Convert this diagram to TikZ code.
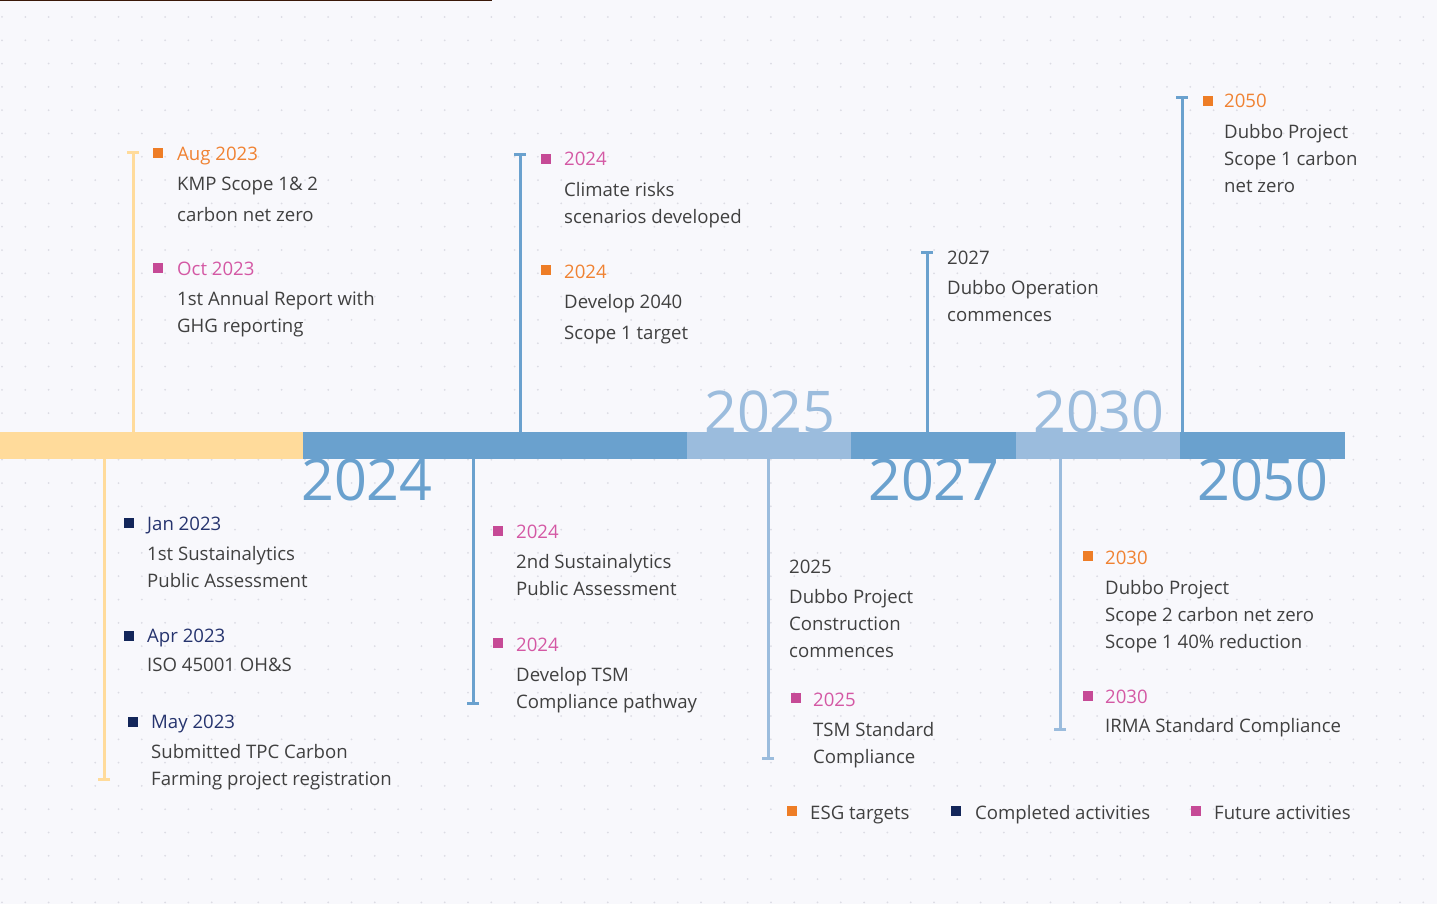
\documentclass[tikz,border=0pt]{standalone}
\usepackage{fontspec}
\setmainfont{Open Sans}
\definecolor{PageBg}{RGB}{248,248,252}
\definecolor{DotGrey}{RGB}{220,220,228}
\definecolor{TopRule}{RGB}{58,24,8}
\definecolor{BarYellow}{RGB}{255,219,155}
\definecolor{BarBlue}{RGB}{106,161,206}
\definecolor{BarLight}{RGB}{155,188,221}
\definecolor{EsgOrange}{RGB}{238,125,38}
\definecolor{DoneNavy}{RGB}{19,38,90}
\definecolor{FuturePink}{RGB}{198,74,150}
\definecolor{DateOrange}{RGB}{240,130,50}
\definecolor{DateNavy}{RGB}{38,52,110}
\definecolor{DatePink}{RGB}{212,88,164}
\definecolor{BodyGrey}{RGB}{64,64,64}
\usetikzlibrary{arrows.meta, positioning}

\begin{document}
\begin{tikzpicture}[x=1pt, y=-1pt,
        seg/.style={rectangle, inner sep=0pt, minimum height=27pt, anchor=west},
        stem/.style={line width=3pt},
        capped/.style={arrows={Bar[width=12pt]-}},
        chip/.style={rectangle, inner sep=0pt, minimum size=10pt},
        date/.style={anchor=base west, inner sep=0pt, font=\fontsize{18.6}{27}\selectfont},
        body/.style={inner sep=0pt, align=left, text=BodyGrey, font=\fontsize{18.6}{27}\selectfont, execute at begin node=\strut},
        bigyear/.style={anchor=base west, inner sep=0pt, font=\fontsize{57.5}{60}\selectfont}
    ]
        \useasboundingbox (0,0) rectangle (1437,904);
        \fill[PageBg] (0,0) rectangle (1437,904);
        % dotted paper
        \foreach \i in {0,...,61}
            \foreach \j in {0,...,38}
                \fill[DotGrey] ({2+23.3*\i},{17+23.3*\j}) circle (1pt);
        \draw[TopRule, line width=1.5pt] (0,0.75) -- (492,0.75);

        % years
        \node[bigyear, text=BarBlue] (y2024) at (301,500) {2024};
        \node[bigyear, text=BarLight] (y2025) at (704,432) {2025};
        \node[bigyear, text=BarBlue] (y2027) at (868,500) {2027};
        \node[bigyear, text=BarLight] (y2030) at (1033,432) {2030};
        \node[bigyear, text=BarBlue] (y2050) at (1197,500) {2050};

        % timeline bar
        \node[seg, fill=BarYellow, minimum width=303pt] (seg1) at (0,445.5) {};
        \node[seg, fill=BarBlue, minimum width=384pt] (seg2) at (303,445.5) {};
        \node[seg, fill=BarLight, minimum width=164pt] (seg3) at (687,445.5) {};
        \node[seg, fill=BarBlue, minimum width=165pt] (seg4) at (851,445.5) {};
        \node[seg, fill=BarLight, minimum width=164pt] (seg5) at (1016,445.5) {};
        \node[seg, fill=BarBlue, minimum width=165pt] (seg6) at (1180,445.5) {};

        % stems
        \coordinate (t1) at (133,151);
        \coordinate (t2) at (520,153);
        \coordinate (t3) at (927,251);
        \coordinate (t4) at (1182,96);
        \coordinate (b1) at (104,781);
        \coordinate (b2) at (473,705);
        \coordinate (b3) at (768,760);
        \coordinate (b4) at (1060,731);
        \draw[stem, capped, BarYellow] (t1) -- (t1 |- seg1.north);
        \draw[stem, capped, BarBlue] (t2) -- (t2 |- seg2.north);
        \draw[stem, capped, BarBlue] (t3) -- (t3 |- seg4.north);
        \draw[stem, capped, BarBlue] (t4) -- (t4 |- seg6.north);
        \draw[stem, capped, BarYellow] (b1) -- (b1 |- seg1.south);
        \draw[stem, capped, BarBlue] (b2) -- (b2 |- seg2.south);
        \draw[stem, capped, BarLight] (b3) -- (b3 |- seg3.south);
        \draw[stem, capped, BarLight] (b4) -- (b4 |- seg5.south);

        % above the bar
        \node[chip, fill=EsgOrange] (c1) at (158,153) {};
        \node[date, text=DateOrange] (d1) at (177,161) {Aug 2023};
        \node[body, below right=15.9pt and 0pt of d1.base west] (e1) {KMP Scope 1\& 2\\[4pt]carbon net zero};
        \node[chip, fill=FuturePink] (c2) at (158,268) {};
        \node[date, text=DatePink] (d2) at (177,275) {Oct 2023};
        \node[body, below right=15.9pt and 0pt of d2.base west] (e2) {1st Annual Report with\\GHG reporting};

        \node[chip, fill=FuturePink] (c3) at (546,159) {};
        \node[date, text=DatePink] (d3) at (564,166) {2024};
        \node[body, below right=15.9pt and 0pt of d3.base west] (e3) {Climate risks\\scenarios developed};
        \node[chip, fill=EsgOrange] (c4) at (546,270) {};
        \node[date, text=DateOrange] (d4) at (564,278) {2024};
        \node[body, below right=15.9pt and 0pt of d4.base west] (e4) {Develop 2040\\[4pt]Scope 1 target};

        \node[date, text=BodyGrey] (d5) at (947,264) {2027};
        \node[body, below right=15.9pt and 0pt of d5.base west] (e5) {Dubbo Operation\\commences};

        \node[chip, fill=EsgOrange] (c6) at (1208,101) {};
        \node[date, text=DateOrange] (d6) at (1224,108) {2050};
        \node[body, below right=15.9pt and 0pt of d6.base west] (e6) {Dubbo Project\\Scope 1 carbon\\net zero};

        % below the bar
        \node[chip, fill=DoneNavy] (c7) at (129,523) {};
        \node[date, text=DateNavy] (d7) at (147,530) {Jan 2023};
        \node[body, below right=15.9pt and 0pt of d7.base west] (e7) {1st Sustainalytics\\Public Assessment};
        \node[chip, fill=DoneNavy] (c8) at (129,636) {};
        \node[date, text=DateNavy] (d8) at (147,642) {Apr 2023};
        \node[body, below right=9.9pt and 0pt of d8.base west] (e8) {ISO 45001 OH\&S};
        \node[chip, fill=DoneNavy] (c9) at (133,722) {};
        \node[date, text=DateNavy] (d9) at (151,728) {May 2023};
        \node[body, below right=15.9pt and 0pt of d9.base west] (e9) {Submitted TPC Carbon\\Farming project registration};

        \node[chip, fill=FuturePink] (c10) at (498,531) {};
        \node[date, text=DatePink] (d10) at (516,538) {2024};
        \node[body, below right=15.9pt and 0pt of d10.base west] (e10) {2nd Sustainalytics\\Public Assessment};
        \node[chip, fill=FuturePink] (c11) at (498,643) {};
        \node[date, text=DatePink] (d11) at (516,651) {2024};
        \node[body, below right=15.9pt and 0pt of d11.base west] (e11) {Develop TSM\\Compliance pathway};

        \node[date, text=BodyGrey] (d12) at (789,573) {2025};
        \node[body, below right=15.9pt and 0pt of d12.base west] (e12) {Dubbo Project\\Construction\\commences};
        \node[chip, fill=FuturePink] (c13) at (796,698) {};
        \node[date, text=DatePink] (d13) at (813,706) {2025};
        \node[body, below right=15.9pt and 0pt of d13.base west] (e13) {TSM Standard\\Compliance};

        \node[chip, fill=EsgOrange] (c14) at (1088,556) {};
        \node[date, text=DateOrange] (d14) at (1105,564) {2030};
        \node[body, below right=15.9pt and 0pt of d14.base west] (e14) {Dubbo Project\\Scope 2 carbon net zero\\Scope 1 40\% reduction};
        \node[chip, fill=FuturePink] (c15) at (1088,696) {};
        \node[date, text=DatePink] (d15) at (1105,703) {2030};
        \node[body, below right=9.9pt and 0pt of d15.base west] (e15) {IRMA Standard Compliance};

        % legend
        \node[chip, fill=EsgOrange] (k1) at (792,811) {};
        \node[date, text=BodyGrey] (l1) at (810,819) {ESG targets};
        \node[chip, fill=DoneNavy] (k2) at (956,811) {};
        \node[date, text=BodyGrey] (l2) at (975,819) {Completed activities};
        \node[chip, fill=FuturePink] (k3) at (1196,811) {};
        \node[date, text=BodyGrey] (l3) at (1214,819) {Future activities};
    \end{tikzpicture}
\end{document}
